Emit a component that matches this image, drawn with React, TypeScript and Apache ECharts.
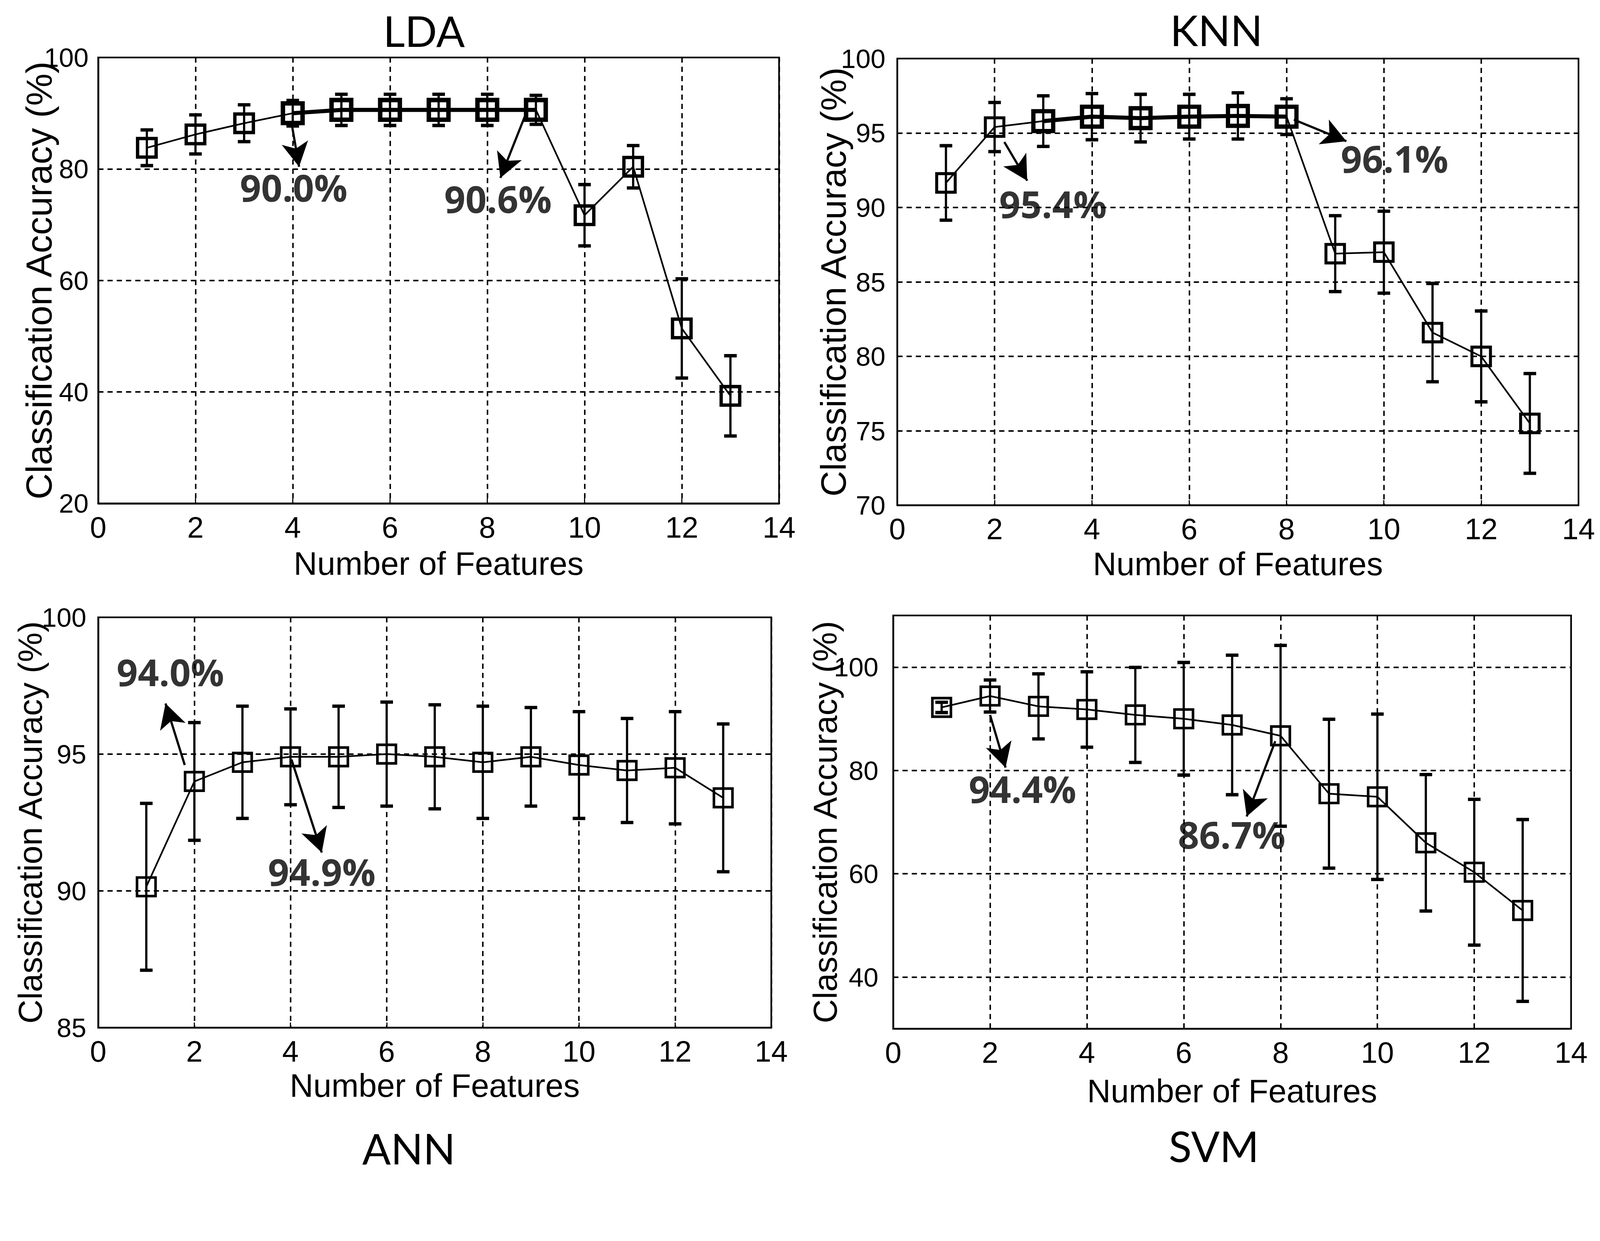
import React, { useEffect, useRef } from "react";
import * as echarts from "echarts";

// ---------- data ----------
const features = [1, 2, 3, 4, 5, 6, 7, 8, 9, 10, 11, 12, 13];

const ldaMean = [83.8, 86.2, 88.2, 90.0, 90.6, 90.6, 90.6, 90.6, 90.6, 71.7, 80.4, 51.4, 39.3];
const ldaErr = [3.2, 3.5, 3.3, 2.3, 2.8, 2.8, 2.8, 2.8, 2.6, 5.5, 3.8, 8.9, 7.2];

const knnMean = [91.65, 95.4, 95.8, 96.1, 96.0, 96.1, 96.15, 96.1, 86.9, 87.0, 81.6, 80.0, 75.5];
const knnErr = [2.5, 1.65, 1.7, 1.55, 1.6, 1.5, 1.55, 1.2, 2.55, 2.75, 3.3, 3.05, 3.35];

const annMean = [90.15, 94.0, 94.7, 94.9, 94.9, 95.0, 94.9, 94.7, 94.9, 94.6, 94.4, 94.5, 93.4];
const annErr = [3.05, 2.15, 2.05, 1.75, 1.85, 1.9, 1.9, 2.05, 1.8, 1.95, 1.9, 2.05, 2.7];

const svmMean = [92.2, 94.4, 92.4, 91.8, 90.75, 90.0, 88.8, 86.7, 75.5, 74.9, 66.0, 60.3, 52.9];
const svmErr = [1.0, 3.1, 6.3, 7.3, 9.2, 10.9, 13.5, 17.5, 14.4, 16.0, 13.2, 14.1, 17.6];

const svmYTicks = [40, 60, 80, 100];

// annotation texts and their anchor points (data space)
const ldaNoteText = ["90.0%", "90.6%"];
const ldaArrowFrom = [[3.98, 88.0], [8.78, 89.6]];
const ldaArrowTo = [[4.13, 80.4], [8.27, 78.4]];
const ldaNoteAt = [[4.02, 76.7], [8.22, 74.7]];

const knnNoteText = ["95.4%", "96.1%"];
const knnArrowFrom = [[2.2, 94.4], [8.15, 95.9]];
const knnArrowTo = [[2.67, 91.8], [9.23, 94.45]];
const knnNoteAt = [[3.2, 90.25], [10.22, 93.3]];

const annNoteText = ["94.0%", "94.9%"];
const annArrowFrom = [[1.8, 94.6], [4.02, 94.8]];
const annArrowTo = [[1.4, 96.85], [4.65, 91.4]];
const annNoteAt = [[1.5, 98.0], [4.65, 90.7]];

const svmNoteText = ["94.4%", "86.7%"];
const svmArrowFrom = [[2.0, 90.75], [7.89, 85.65]];
const svmArrowTo = [[2.32, 80.55], [7.3, 71.1]];
const svmNoteAt = [[2.67, 76.5], [6.99, 67.6]];

const panelTitles = ["LDA", "KNN", "ANN", "SVM"];
const xName = "Number of Features";
const yName = "Classification Accuracy (%)";

// ---------- layout (reference pixel space 4317 x 3176) ----------
const REF_W = 4317;
const REF_H = 3176;
const regular = "'Liberation Sans', Arial, sans-serif";
const noteFont = "'Open Sans', 'Noto Sans', sans-serif";
const titleFont = "Lato, 'Open Sans', sans-serif";

type Panel = {
  mean: number[];
  err: number[];
  yMin: number;
  yMax: number;
  yInterval?: number;
  yCustom?: number[];
  box: [number, number, number, number]; // left, top, right, bottom (page px)
  yNameGap: number;
  yNameSize: number;
  xNameGap: number;
  yLabelMargin: number;
  markerBorder: number;
  bold?: [number, number];
  noteText: string[];
  arrowFrom: number[][];
  arrowTo: number[][];
  noteAt: number[][];
  title: [number, number];
};

const panels: Panel[] = [
  {
    mean: ldaMean, err: ldaErr, yMin: 20, yMax: 100, yInterval: 20,
    box: [265, 155, 2102, 1358],
    yNameGap: 111, yNameSize: 98, xNameGap: 118, yLabelMargin: 26, markerBorder: 9, bold: [4, 9],
    noteText: ldaNoteText, arrowFrom: ldaArrowFrom, arrowTo: ldaArrowTo, noteAt: ldaNoteAt,
    title: [1144, 82],
  },
  {
    mean: knnMean, err: knnErr, yMin: 70, yMax: 100, yInterval: 5,
    box: [2421, 158, 4259, 1363],
    yNameGap: 124, yNameSize: 96, xNameGap: 114, yLabelMargin: 32, markerBorder: 8, bold: [3, 8],
    noteText: knnNoteText, arrowFrom: knnArrowFrom, arrowTo: knnArrowTo, noteAt: knnNoteAt,
    title: [3282, 80],
  },
  {
    mean: annMean, err: annErr, yMin: 85, yMax: 100, yInterval: 5,
    box: [265, 1665, 2081, 2772],
    yNameGap: 139, yNameSize: 90, xNameGap: 112, yLabelMargin: 32, markerBorder: 7,
    noteText: annNoteText, arrowFrom: annArrowFrom, arrowTo: annArrowTo, noteAt: annNoteAt,
    title: [1103, 3096],
  },
  {
    mean: svmMean, err: svmErr, yMin: 30, yMax: 110, yCustom: svmYTicks,
    box: [2410, 1660, 4239, 2775],
    yNameGap: 139, yNameSize: 90, xNameGap: 124, yLabelMargin: 40, markerBorder: 7,
    noteText: svmNoteText, arrowFrom: svmArrowFrom, arrowTo: svmArrowTo, noteAt: svmNoteAt,
    title: [3275, 3090],
  },
];

function buildOption(s: number) {
  const X = (v: number) => v * s - 8;
  const Y = (v: number) => v * s - 8;
  const grids: any[] = [];
  const xAxes: any[] = [];
  const yAxes: any[] = [];
  const series: any[] = [];
  const graphics: any[] = [];

  const splitStyle = { color: "#000", width: 4 * s, type: [14 * s, 11 * s] };

  panels.forEach((p, i) => {
    const [l, t, r, b] = p.box;
    grids.push({
      left: X(l),
      top: Y(t),
      width: (r - l) * s,
      height: (b - t) * s,
      show: true,
      borderColor: "#000",
      borderWidth: 4.5 * s,
      backgroundColor: "#fff",
    });
    xAxes.push({
      gridIndex: i,
      type: "value",
      min: 0,
      max: 14,
      interval: 2,
      axisLine: { show: true, onZero: false, lineStyle: { color: "#000", width: 4.5 * s } },
      axisTick: { show: true, inside: true, length: 14 * s, lineStyle: { color: "#000", width: 3 * s } },
      axisLabel: { color: "#000", fontFamily: regular, fontSize: 80 * s, margin: 24 * s },
      splitLine: { show: true, lineStyle: splitStyle },
      name: xName,
      nameLocation: "middle",
      nameGap: p.xNameGap * s,
      nameMoveOverlap: false,
      nameTextStyle: { color: "#000", fontFamily: regular, fontSize: 88 * s },
    });
    const y: any = {
      gridIndex: i,
      type: "value",
      min: p.yMin,
      max: p.yMax,
      axisLine: { show: true, onZero: false, lineStyle: { color: "#000", width: 4.5 * s } },
      axisTick: { show: true, inside: true, length: 14 * s, lineStyle: { color: "#000", width: 3 * s } },
      axisLabel: { color: "#000", fontFamily: regular, fontSize: 72 * s, margin: p.yLabelMargin * s },
      splitLine: { show: true, lineStyle: splitStyle },
      name: yName,
      nameLocation: "middle",
      nameGap: p.yNameGap * s,
      nameMoveOverlap: false,
      nameTextStyle: { color: "#000", fontFamily: regular, fontSize: p.yNameSize * s },
    };
    if (p.yInterval) y.interval = p.yInterval;
    if (p.yCustom) {
      y.axisLabel.customValues = p.yCustom;
      y.axisTick.customValues = p.yCustom;
    }
    yAxes.push(y);

    // error bars
    series.push({
      type: "custom",
      xAxisIndex: i,
      yAxisIndex: i,
      z: 3,
      silent: true,
      data: features.map((f, k) => [f, p.mean[k] - p.err[k], p.mean[k] + p.err[k]]),
      encode: { x: 0, y: [1, 2] },
      renderItem: (params: any, api: any) => {
        const x = api.value(0);
        const lo = api.coord([x, api.value(1)]);
        const hi = api.coord([x, api.value(2)]);
        const cap = 17 * s;
        const bar = { stroke: "#000", lineWidth: 6 * s };
        const capStyle = { stroke: "#000", lineWidth: 9 * s };
        return {
          type: "group",
          children: [
            { type: "line", shape: { x1: lo[0], y1: lo[1], x2: hi[0], y2: hi[1] }, style: bar },
            { type: "line", shape: { x1: lo[0] - cap, y1: lo[1], x2: lo[0] + cap, y2: lo[1] }, style: capStyle },
            { type: "line", shape: { x1: hi[0] - cap, y1: hi[1], x2: hi[0] + cap, y2: hi[1] }, style: capStyle },
          ],
        };
      },
    });

    // main line with square markers and arrows
    series.push({
      type: "line",
      xAxisIndex: i,
      yAxisIndex: i,
      z: 4,
      silent: true,
      data: features.map((f, k) => [f, p.mean[k]]),
      symbol: "rect",
      symbolSize: 50 * s,
      itemStyle: { color: "rgba(255,255,255,0)", borderColor: "#000", borderWidth: p.markerBorder * s },
      lineStyle: { color: "#000", width: 4.5 * s },
      markLine: {
        silent: true,
        symbol: ["none", "arrow"],
        symbolSize: [54 * s, 66 * s],
        lineStyle: { color: "#000", width: 6 * s, type: "solid" },
        label: { show: false },
        emphasis: { disabled: true },
        data: p.arrowFrom.map((f, k) => [{ coord: f }, { coord: p.arrowTo[k] }]),
      },
    });

    if (p.bold) {
      const [b0, b1] = p.bold;
      const idx = features.map((f, k) => k).filter((k) => features[k] >= b0 && features[k] <= b1);
      series.push({
        type: "line",
        xAxisIndex: i,
        yAxisIndex: i,
        z: 4,
        silent: true,
        data: idx.map((k) => [features[k], p.mean[k]]),
        symbol: "rect",
        symbolSize: 54 * s,
        itemStyle: { color: "rgba(255,255,255,0)", borderColor: "#000", borderWidth: 11 * s },
        lineStyle: { color: "#000", width: 11 * s },
      });
    }

    // annotation labels
    series.push({
      type: "scatter",
      xAxisIndex: i,
      yAxisIndex: i,
      z: 6,
      silent: true,
      symbolSize: 1,
      itemStyle: { color: "rgba(0,0,0,0)" },
      data: p.noteAt.map((pt, k) => ({ value: pt, name: p.noteText[k] })),
      label: {
        show: true,
        position: "inside",
        formatter: "{b}",
        color: "#000",
        fontFamily: noteFont,
        fontWeight: "bold",
        fontSize: 100 * s,
      },
    });

    graphics.push({
      type: "text",
      x: X(p.title[0]),
      y: Y(p.title[1]),
      style: {
        text: panelTitles[i],
        fill: "#000",
        fontFamily: titleFont,
        fontSize: 114 * s,
        align: "center",
        verticalAlign: "middle",
      },
    });
  });

  return {
    animation: false,
    backgroundColor: "#fff",
    grid: grids,
    xAxis: xAxes,
    yAxis: yAxes,
    series,
    graphic: graphics,
  };
}

export default function App() {
  const ref = useRef<HTMLDivElement>(null);
  const vw = typeof window !== "undefined" ? window.innerWidth : REF_W;
  const s0 = vw / REF_W;
  useEffect(() => {
    if (!ref.current) return;
    const chart = echarts.init(ref.current, undefined, { renderer: "svg" });
    chart.setOption(buildOption(s0) as any);
    return () => chart.dispose();
  }, []);
  return (
    <div
      ref={ref}
      style={{ width: `${Math.floor(REF_W * s0) - 16}px`, height: `${Math.floor(REF_H * s0) - 16}px` }}
    />
  );
}
